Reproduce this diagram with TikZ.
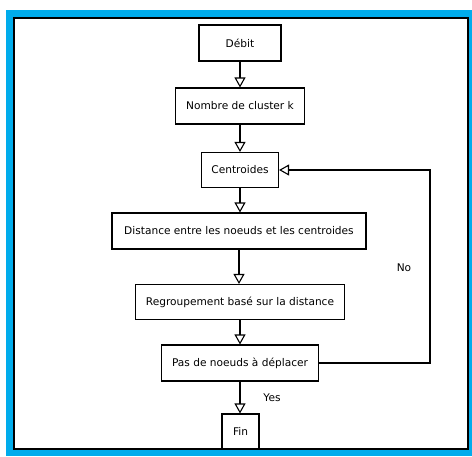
\documentclass[tikz,border=0pt]{standalone}
\usepackage{fontspec}
\setmainfont{DejaVu Sans}
\usetikzlibrary{arrows.meta}
\definecolor{framecyan}{RGB}{0,172,236}
\begin{document}
\begin{tikzpicture}[x=1pt,y=-1pt,
  box/.style={draw=black,line width=1.1pt,fill=white,inner sep=0pt,
    minimum height=36pt,font=\fontsize{10.6}{12}\selectfont},
  flow/.style={line width=1.1pt,-{Triangle[open,length=10pt,width=11pt,line width=1.1pt]}},
  lbl/.style={font=\fontsize{10.6}{12}\selectfont}]
\useasboundingbox (0,0) rectangle (472,456);
% outer cyan frame and inner panel
\fill[framecyan] (6,10) rectangle (472,456);
\filldraw[fill=white,draw=black,line width=1.1pt] (14,18) rectangle (468,449);
% flowchart steps
\node[box,minimum width=82pt] (deb) at (240,43) {Débit};
\node[box,minimum width=129pt] (nom) at (240,106) {Nombre de cluster k};
\node[box,minimum width=77pt,minimum height=35pt] (cen) at (240,170) {Centroides};
\node[box,minimum width=254pt] (dis) at (239,231) {Distance entre les noeuds et les centroides};
\node[box,minimum width=209pt,minimum height=35pt] (reg) at (240,302) {Regroupement basé sur la distance};
\node[box,minimum width=157pt] (pas) at (240,363) {Pas de noeuds à déplacer};
\node[box,minimum width=37pt,minimum height=35pt] (fin) at (240.5,431.5) {Fin};
% connectors
\draw[flow] (deb.south) -- (deb.south |- nom.north);
\draw[flow] (nom.south) -- (nom.south |- cen.north);
\draw[flow] (cen.south) -- (cen.south |- dis.north);
\draw[flow] (dis.south) -- (dis.south |- reg.north);
\draw[flow] (reg.south) -- (reg.south |- pas.north);
\draw[flow] (pas.south) -- (pas.south |- fin.north);
\coordinate (back) at (430,170);
\draw[flow] (pas.east) -| (back) -- (cen.east);
% branch labels
\node[lbl] (no) at (404,268) {No};
\node[lbl] (yes) at (272,398) {Yes};
\end{tikzpicture}
\end{document}
